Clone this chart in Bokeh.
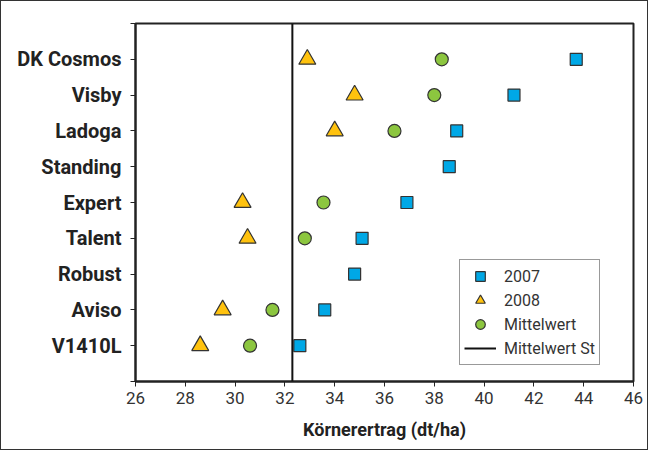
import numpy as np
from bokeh.plotting import figure
from bokeh.models import ColumnDataSource, FixedTicker, Span, Legend, LegendItem
from bokeh.embed import file_html
from bokeh.resources import INLINE

varieties = ["V1410L", "Aviso", "Robust", "Talent", "Expert", "Standing", "Ladoga", "Visby", "DK Cosmos"]
y2007 = [32.6, 33.6, 34.8, 35.1, 36.9, 38.6, 38.9, 41.2, 43.7]
y2008 = [28.6, 29.5, np.nan, 30.5, 30.3, np.nan, 34.0, 34.8, 32.9]
mittelwert = [30.6, 31.5, np.nan, 32.8, 33.55, np.nan, 36.4, 38.0, 38.3]
mittelwert_st = 32.3
x_ticks = [26, 28, 30, 32, 34, 36, 38, 40, 42, 44, 46]

pos = list(range(1, len(varieties) + 1))
src = ColumnDataSource(dict(pos=pos, y2007=y2007, y2008=y2008, mw=mittelwert))

FONT = "Roboto"

p = figure(width=648, height=450, output_backend="svg", toolbar_location=None,
           x_range=(26, 46), y_range=(0, len(varieties) + 1),
           min_border_left=134, min_border_right=16, min_border_top=22, min_border_bottom=70)
p.styles = {"border": "1.5px solid #333", "box-sizing": "border-box"}
p.grid.visible = False
p.outline_line_color = "#222"
p.outline_line_width = 2

p.xaxis.ticker = FixedTicker(ticks=x_ticks)
p.xaxis.axis_label = "Körnerertrag (dt/ha)"
p.xaxis.axis_label_text_font = FONT
p.xaxis.axis_label_text_font_style = "bold"
p.xaxis.axis_label_text_font_size = "18px"
p.xaxis.axis_label_text_color = "#222"
p.xaxis.axis_label_standoff = 12
p.xaxis.major_label_text_font = FONT
p.xaxis.major_label_text_font_size = "17px"
p.xaxis.major_label_text_color = "#333"
p.xaxis.minor_tick_line_color = None
p.xaxis.major_tick_in = 0
p.xaxis.major_tick_out = 5
p.xaxis.axis_line_width = 2
p.xaxis.axis_line_color = "#222"
p.xaxis.major_tick_line_color = "#222"

p.yaxis.ticker = FixedTicker(ticks=list(range(0, len(varieties) + 2)))
p.yaxis.major_label_overrides = {0: "", len(varieties) + 1: "", **{i + 1: v for i, v in enumerate(varieties)}}
p.yaxis.major_label_text_font = FONT
p.yaxis.major_label_text_font_style = "bold"
p.yaxis.major_label_text_font_size = "20px"
p.yaxis.major_label_text_color = "#222"
p.yaxis.minor_tick_line_color = None
p.yaxis.major_tick_in = 0
p.yaxis.major_tick_out = 5
p.yaxis.major_label_standoff = 9
p.yaxis.axis_line_width = 2
p.yaxis.axis_line_color = "#222"
p.yaxis.major_tick_line_color = "#222"

span = Span(location=mittelwert_st, dimension="height", line_color="#111", line_width=2)
p.add_layout(span)

r07 = p.scatter("y2007", "pos", source=src, marker="square", size=12,
                fill_color="#00a8e6", line_color="#333", line_width=1.2)
r08 = p.scatter("y2008", "pos", source=src, marker="triangle", size=17,
                fill_color="#ffc20e", line_color="#333", line_width=1.2)
rmw = p.scatter("mw", "pos", source=src, marker="circle", size=13,
                fill_color="#8cc63f", line_color="#333", line_width=1.2)
rline = p.line(x=[np.nan], y=[np.nan], line_color="#111", line_width=2)

legend = Legend(items=[
    LegendItem(label="2007", renderers=[r07]),
    LegendItem(label="2008", renderers=[r08]),
    LegendItem(label="Mittelwert", renderers=[rmw]),
    LegendItem(label="Mittelwert St", renderers=[rline]),
], location=(324, 16))
legend.label_text_font = FONT
legend.label_text_font_size = "16px"
legend.label_text_color = "#333"
legend.border_line_color = "#333"
legend.border_line_width = 1.5
legend.glyph_width = 32
legend.glyph_height = 24
legend.label_height = 22
legend.spacing = 0
legend.padding = 4
legend.margin = 0
legend.label_standoff = 8
p.add_layout(legend)

open("out.html", "w").write(file_html(p, INLINE))
